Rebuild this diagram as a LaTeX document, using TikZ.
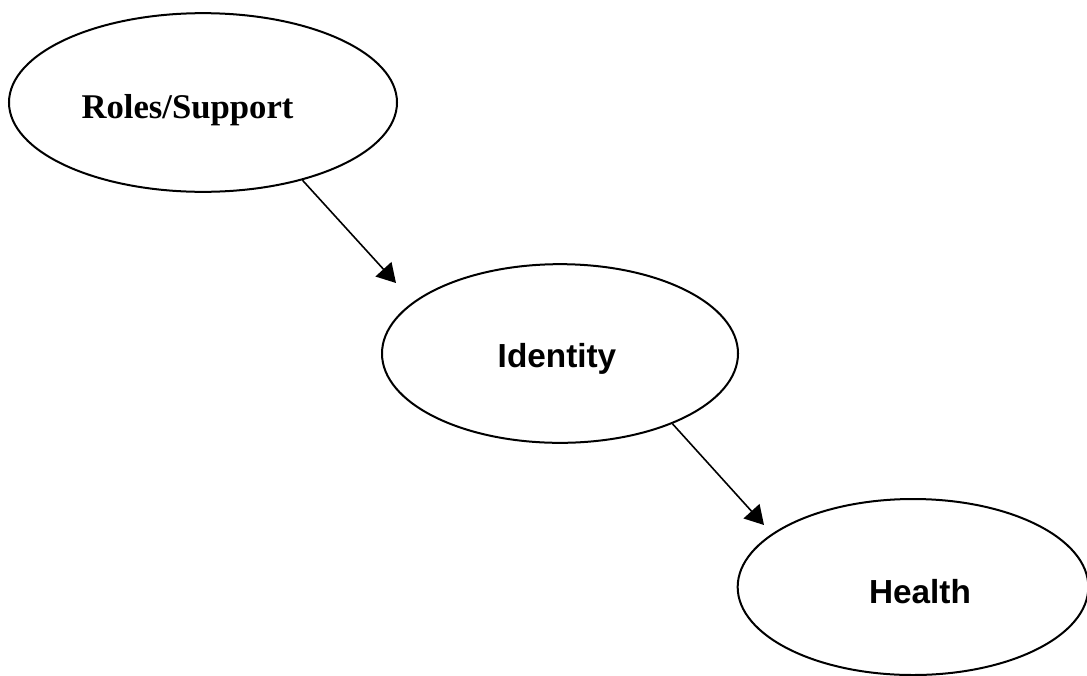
\documentclass[tikz,border=0pt]{standalone}
\usepackage{fontspec}
\newfontfamily\timesfont{Liberation Serif}
\newfontfamily\arialfont{Liberation Sans}
\usepackage{tikz}
\usetikzlibrary{arrows.meta,shapes.geometric}

\begin{document}
\begin{tikzpicture}[x=0.75pt,y=-0.75pt]

	\tikzstyle oval=[draw, ellipse, line width=1.5pt, inner sep=0pt];
	\tikzstyle serif text=[anchor=base, font=\timesfont\bfseries\fontsize{26}{30}\selectfont];
	\tikzstyle sans text=[anchor=base, font=\arialfont\bfseries\fontsize{25}{30}\selectfont];
	\tikzstyle path arrow=[line width=1.2pt, -{Triangle[length=14pt,width=16pt]}];

	\useasboundingbox (0,0) rectangle (1087,675);

	% the three constructs
	\node[oval, minimum width=291pt, minimum height=134pt] (roles) at (203,102.5) {};
	\node[serif text] (roleslabel) at (187.5,118) {Roles/Support};

	\node[oval, minimum width=267pt, minimum height=134pt] (identity) at (560,353.5) {};
	\node[sans text] (identitylabel) at (557,367) {Identity};

	\node[oval, minimum width=263pt, minimum height=132pt] (health) at (913,587) {};
	\node[sans text] (healthlabel) at (920,603) {Health};

	% arrows stop short of the next oval
	\coordinate (toidentity) at (396,283);
	\coordinate (tohealth) at (764,525);

	\foreach \from/\to in {roles.-38/toidentity,identity.-32/tohealth}
		\draw[path arrow] (\from) -- (\to);

\end{tikzpicture}
\end{document}
